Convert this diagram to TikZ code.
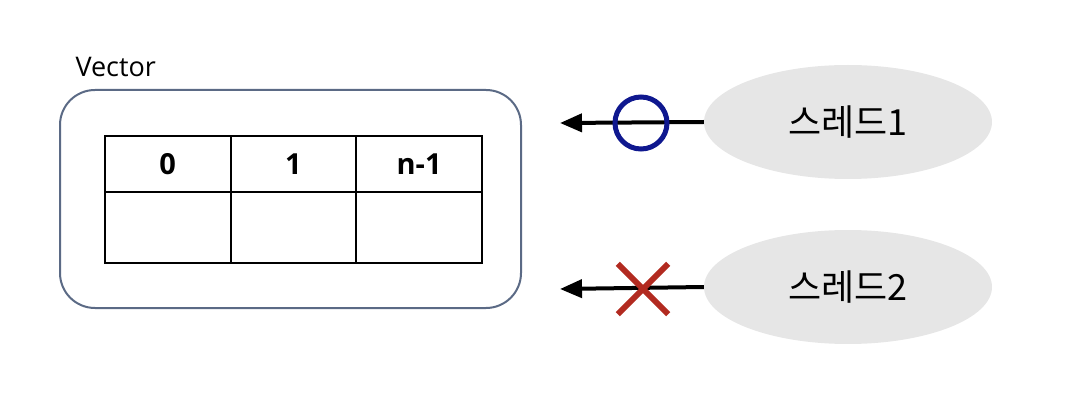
\documentclass[tikz,border=0pt]{standalone}
\usepackage{fontspec}
\setmainfont{Open Sans}
\newfontfamily\krfont{Noto Sans CJK KR}
\usetikzlibrary{arrows.meta, positioning, shapes.geometric}
\definecolor{boxgray}{HTML}{5B6A85}
\definecolor{okblue}{HTML}{0F188F}
\definecolor{ngred}{HTML}{B22A20}
\definecolor{threadgray}{HTML}{E6E6E6}

\begin{document}
\begin{tikzpicture}[x=1pt, y=-1pt, >={Triangle[length=22pt, width=18pt]},
  thread/.style={ellipse, fill=threadgray, minimum width=288pt, minimum height=114pt,
    inner sep=0pt, font=\krfont\fontsize{36}{40}\selectfont},
  cell/.style={draw, line width=2pt, minimum width=125.5pt, inner sep=0pt, anchor=north west,
    font=\bfseries\fontsize{29}{34}\selectfont},
  link/.style={->, line width=4pt}]
  \useasboundingbox (0,0) rectangle (1082,414);
  % vector container
  \node[draw=boxgray, line width=2pt, rounded corners=35pt, minimum width=461pt,
    minimum height=218pt, anchor=north west] (vec) at (59,89) {};
  \node[font=\fontsize{27}{32}\selectfont, anchor=base west] (veclabel) at (72,77) {Vector};
  % table cells
  \foreach \i/\txt in {0/0, 1/1, 2/n-1} {
    \node[cell, minimum height=56pt] (h\i) at (104+125.7*\i,135) {\txt};
    \node[cell, minimum height=71pt] (d\i) at (104+125.7*\i,191) {};
  }
  % threads
  \node[thread] (t1) at (848,122) {스레드1};
  \node[thread] (t2) at (848,287) {스레드2};
  \coordinate (e1) at (560,123);
  \coordinate (e2) at (560,289);
  \draw[link] (t1.west) -- (e1);
  \draw[link] (t2.west) -- (e2);
  % allowed / blocked marks
  \node[circle, draw=okblue, line width=5pt, minimum size=52pt, inner sep=0pt] (ok) at (641,123) {};
  \node[minimum size=50pt, inner sep=0pt] (ng) at (643,289) {};
  \draw[ngred, line width=6pt] (ng.north west) -- (ng.south east);
  \draw[ngred, line width=6pt] (ng.north east) -- (ng.south west);
\end{tikzpicture}
\end{document}
